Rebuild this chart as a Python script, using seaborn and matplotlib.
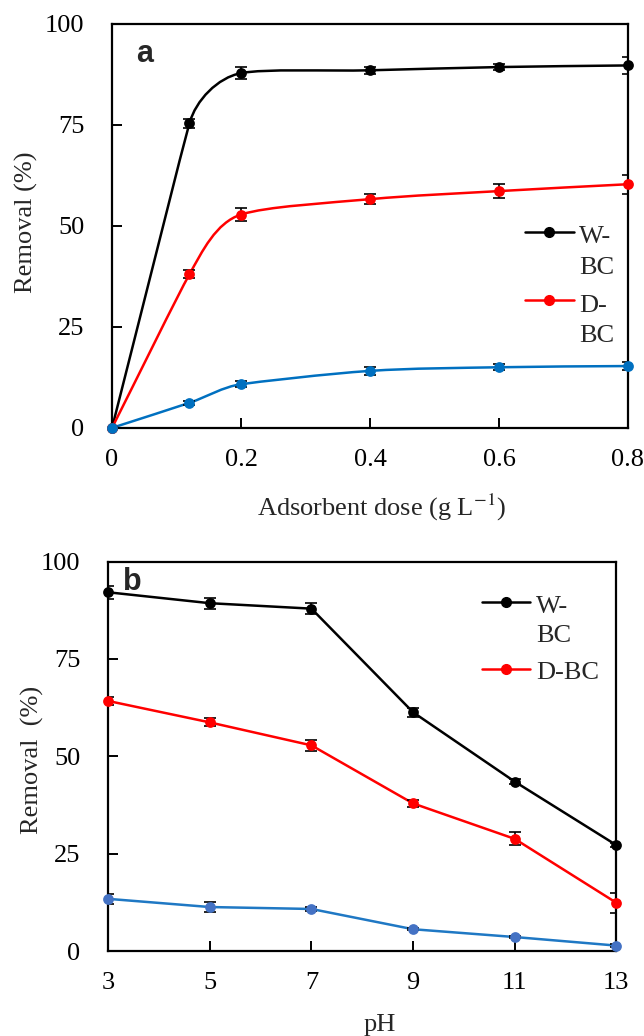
import numpy as np
import pandas as pd
import seaborn as sns
import matplotlib.pyplot as plt
from matplotlib.path import Path
from matplotlib.patches import PathPatch
from matplotlib.legend_handler import HandlerLine2D

# --- data (a): adsorbent dose ---
dose = [0, 0.12, 0.2, 0.4, 0.6, 0.8]
w_dose = [0, 75.4, 87.8, 88.5, 89.3, 89.7]
w_dose_err = [0, 1.1, 1.5, 0.8, 0.8, 2.1]
d_dose = [0, 38.0, 52.8, 56.6, 58.6, 60.3]
d_dose_err = [0, 1.0, 1.5, 1.2, 1.7, 2.4]
c_dose = [0, 6.2, 10.8, 14.1, 15.0, 15.3]
c_dose_err = [0, 0.5, 0.8, 1.0, 0.8, 0.9]

# --- data (b): pH ---
ph = [3, 5, 7, 9, 11, 13]
w_ph = [92.1, 89.3, 87.9, 61.3, 43.5, 27.2]
w_ph_err = [1.6, 1.4, 1.5, 1.1, 0.7, 0.5]
d_ph = [64.2, 58.7, 52.8, 37.9, 28.8, 12.4]
d_ph_err = [1.0, 1.0, 1.5, 0.9, 1.7, 2.6]
c_ph = [13.4, 11.3, 10.8, 5.6, 3.6, 1.4]
c_ph_err = [1.3, 1.2, 0.6, 0.3, 0.3, 0.3]

x_ticks_a = [0, 0.2, 0.4, 0.6, 0.8]
x_ticks_b = [3, 5, 7, 9, 11, 13]
y_ticks = [0, 25, 50, 75, 100]

sns.set_theme(style="ticks")
plt.rcParams['font.family'] = ['Liberation Serif', 'DejaVu Serif']
plt.rcParams['mathtext.fontset'] = 'stix'
FS = 19


def smooth_path(ax, xs, ys):
    # smoothed line like Excel: Bezier segments through the points, done in
    # screen-proportional units. The tangent at a point leans toward the
    # longer neighbouring segment and handle lengths are capped by the
    # shorter one, so long straight runs stay straight.
    bb = ax.get_position()
    x0, x1 = ax.get_xlim()
    y0, y1 = ax.get_ylim()
    sx = bb.width * 6.44 / (x1 - x0)
    sy = bb.height * 10.36 / (y1 - y0)
    p = np.column_stack([np.asarray(xs) * sx, np.asarray(ys) * sy])
    n = len(p)
    seg = np.diff(p, axis=0)
    d = np.linalg.norm(seg, axis=1)
    u = seg / d[:, None]
    tang = np.zeros_like(p)
    tang[0] = u[0]
    tang[-1] = u[-1]
    for i in range(1, n - 1):
        t = d[i - 1] ** 2 * u[i - 1] + d[i] ** 2 * u[i]
        tang[i] = t / np.linalg.norm(t)
    verts = [p[0]]
    codes = [Path.MOVETO]
    for i in range(n - 1):
        l1 = min(d[i], d[i - 1]) if i > 0 else d[i]
        l2 = min(d[i], d[i + 1]) if i < n - 2 else d[i]
        verts += [p[i] + tang[i] * l1 / 3, p[i + 1] - tang[i + 1] * l2 / 3, p[i + 1]]
        codes += [Path.CURVE4] * 3
    verts = np.array(verts) / np.array([sx, sy])
    return Path(verts, codes)


class FirstLineHandler(HandlerLine2D):
    # put the legend symbol level with the first line of a two-line label
    def __init__(self, lift, **kw):
        super().__init__(**kw)
        self.lift = lift

    def create_artists(self, legend, orig_handle, xdescent, ydescent,
                       width, height, fontsize, trans):
        return super().create_artists(legend, orig_handle, xdescent,
                                      ydescent - self.lift * fontsize, width,
                                      height, fontsize, trans)


fig = plt.figure(figsize=(6.44, 10.36), dpi=100)
ax1 = fig.add_axes([0.174, 0.587, 0.801, 0.390])
ax2 = fig.add_axes([0.168, 0.082, 0.789, 0.376])

ax1.set_xlim(0, 0.8)
ax2.set_xlim(3, 13)
for ax in (ax1, ax2):
    ax.set_ylim(0, 100)

series_a = [
    ("W-\nBC", w_dose, w_dose_err, "black", "black"),
    ("D-\nBC", d_dose, d_dose_err, "#FF0000", "#FF0000"),
    (None, c_dose, c_dose_err, "#0070C0", "#0070C0"),
]
series_b = [
    ("W-\nBC", w_ph, w_ph_err, "black", "black"),
    ("D-BC", d_ph, d_ph_err, "#FF0000", "#FF0000"),
    (None, c_ph, c_ph_err, "#1F78C4", "#4472C4"),
]

handles_a = []
for label, ys, err, lc, mc in series_a:
    ax1.add_patch(PathPatch(smooth_path(ax1, dose, ys), facecolor="none",
                            edgecolor=lc, lw=1.8, zorder=2))
    ax1.errorbar(dose, ys, yerr=err, fmt="none", ecolor="black",
                 elinewidth=1.2, capsize=4, capthick=1.2, zorder=3)
    df = pd.DataFrame({"x": dose, "y": ys})
    sns.scatterplot(data=df, x="x", y="y", ax=ax1, color=mc, s=60,
                    edgecolor=mc, linewidth=0, zorder=4, clip_on=False)
    if label:
        handles_a.append(plt.Line2D([], [], color=lc, lw=1.8, marker="o",
                                    markersize=7, markerfacecolor=mc,
                                    markeredgecolor=mc, label=label))

handles_b = []
for label, ys, err, lc, mc in series_b:
    df = pd.DataFrame({"x": ph, "y": ys})
    sns.lineplot(data=df, x="x", y="y", ax=ax2, color=lc, lw=1.8, zorder=2)
    ax2.errorbar(ph, ys, yerr=err, fmt="none", ecolor="black",
                 elinewidth=1.2, capsize=4, capthick=1.2, zorder=3)
    sns.scatterplot(data=df, x="x", y="y", ax=ax2, color=mc, s=60,
                    edgecolor=mc, linewidth=0, zorder=4, clip_on=False)
    if label:
        handles_b.append(plt.Line2D([], [], color=lc, lw=1.8, marker="o",
                                    markersize=7, markerfacecolor=mc,
                                    markeredgecolor=mc, label=label))

ax1.set_xticks(x_ticks_a)
ax1.set_xticklabels(["0", "0.2", "0.4", "0.6", "0.8"])
ax2.set_xticks(x_ticks_b)

for ax in (ax1, ax2):
    ax.set_ylim(0, 100)
    ax.set_yticks(y_ticks)
    for sp in ax.spines.values():
        sp.set_color("black")
        sp.set_linewidth(1.6)
        sp.set_visible(True)
    ax.tick_params(axis="both", direction="in", length=7, width=1.4,
                   colors="black", labelsize=FS)
    ax.tick_params(axis="x", pad=15)
    ax.tick_params(axis="y", pad=20)
    ax.grid(False)

ax1.set_xlabel(r"Adsorbent dose (g L$^{-1}$)", fontsize=FS)
ax1.set_ylabel("Removal (%)", fontsize=FS)
ax2.set_xlabel("pH", fontsize=FS)
ax2.set_ylabel("Removal  (%)", fontsize=FS)
for ax in (ax1, ax2):
    ax.xaxis.label.set_va("center")
    ax.yaxis.label.set_va("center")
ax1.xaxis.set_label_coords(0.523, -0.198)
ax2.xaxis.set_label_coords(0.535, -0.19)
ax1.yaxis.set_label_coords(-0.166, 0.51)
ax2.yaxis.set_label_coords(-0.15, 0.49)

ax1.text(0.047, 0.906, "a", transform=ax1.transAxes, fontsize=22,
         fontweight="bold", family=["Liberation Sans"], va="baseline", ha="left")
ax2.text(0.03, 0.926, "b", transform=ax2.transAxes, fontsize=22,
         fontweight="bold", family=["Liberation Sans"], va="baseline", ha="left")

leg1 = ax1.legend(handles=handles_a, loc="upper left",
                  bbox_to_anchor=(0.80, 0.50), frameon=False, fontsize=FS,
                  handlelength=1.85, handletextpad=0.2, labelspacing=0.6,
                  borderpad=0, borderaxespad=0,
                  handler_map={h: FirstLineHandler(1.5) for h in handles_a})
leg2 = ax2.legend(handles=handles_b, loc="upper left",
                  bbox_to_anchor=(0.735, 0.912), frameon=False, fontsize=FS,
                  handlelength=1.85, handletextpad=0.2, labelspacing=0.5,
                  borderpad=0, borderaxespad=0,
                  handler_map={handles_b[0]: FirstLineHandler(1.4)})
for t in leg1.get_texts():
    t.set_linespacing(1.52)
for t in leg2.get_texts():
    t.set_linespacing(1.42)

fig.savefig("out.png", dpi=100)
